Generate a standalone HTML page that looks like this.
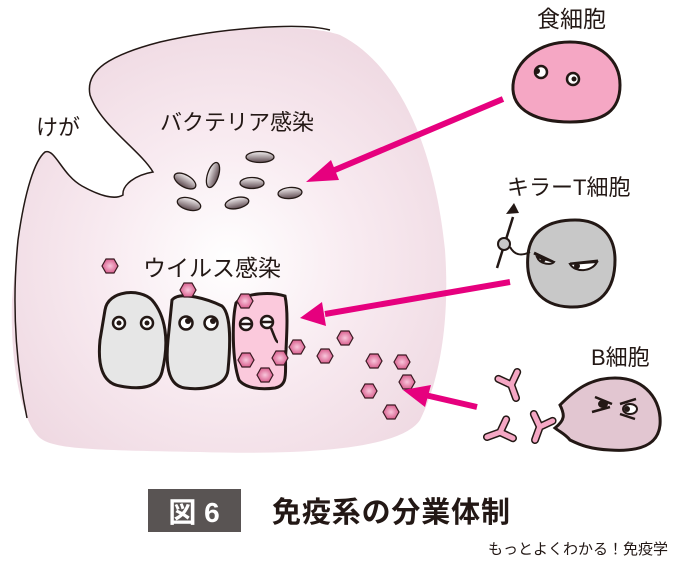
<!DOCTYPE html>
<html><head><meta charset="utf-8"><style>
html,body{margin:0;padding:0;background:#fff;width:674px;height:567px;overflow:hidden}
svg{display:block}
text{font-family:"Liberation Sans","Noto Sans CJK JP",sans-serif;fill:#231815}
</style></head><body>
<svg width="674" height="567" viewBox="0 0 674 567" xmlns="http://www.w3.org/2000/svg">
<defs>
<radialGradient id="tg" cx="0.5" cy="0.55" r="0.6">
<stop offset="0" stop-color="#ffffff"/><stop offset="0.5" stop-color="#f8eaf0"/><stop offset="1" stop-color="#efd9e2"/>
</radialGradient>
<linearGradient id="bg" x1="0" y1="0" x2="0" y2="1"><stop offset="0" stop-color="#f4f0f1"/><stop offset="1" stop-color="#5e4a50"/></linearGradient>
<radialGradient id="hg" cx="0.5" cy="0.5" r="0.5"><stop offset="0" stop-color="#f8c6db"/><stop offset="1" stop-color="#d9608f"/></radialGradient>
<symbol id="hex" viewBox="-9 -8 18 16" overflow="visible"><polygon points="-8,0 -4,-7 4,-7 8,0 4,7 -4,7" fill="url(#hg)" stroke="#3a1a22" stroke-width="1.2"/></symbol>
<g id="ab"><path d="M0 0 L0 14 M0 14 L-10 24 M0 14 L10 24" stroke-linecap="round" stroke-linejoin="round" fill="none"/></g>
</defs>
<path d="M12 300 C18 230 30 165 45 152 C55 148 62 175 82 186 C100 196 115 200 123 195 C122 185 135 175 153 172 C140 150 100 125 90 95 C85 70 110 55 160 42 C220 28 300 22 340 35 C400 65 435 150 445 250 C450 320 440 380 420 420 C400 450 300 455 200 452 C100 450 55 450 40 438 C20 420 10 360 12 300 Z" fill="url(#tg)"/>
<path d="M27 418 C15 360 12 300 18 240 C25 190 35 160 45 152 C55 148 62 175 82 186 C100 196 115 200 123 195 C122 185 135 175 153 172 C140 150 100 125 90 95 C85 70 110 55 160 42 C220 28 300 22 330 30" fill="none" stroke="#231815" stroke-width="1.5"/>
<text x="36" y="135" font-size="22">けが</text>
<text x="160" y="130" font-size="22">バクテリア感染</text>
<text x="143" y="276" font-size="23">ウイルス感染</text>
<g fill="url(#bg)" stroke="#231815" stroke-width="1.3">
<ellipse cx="185" cy="181" rx="12" ry="6" transform="rotate(30 185 181)"/>
<ellipse cx="213" cy="175" rx="13" ry="5.5" transform="rotate(-72 213 175)"/>
<ellipse cx="260" cy="157" rx="14" ry="5.5"/>
<ellipse cx="252" cy="183" rx="12" ry="5.5"/>
<ellipse cx="290" cy="193" rx="12" ry="5.5" transform="rotate(-5 290 193)"/>
<ellipse cx="189" cy="204" rx="12" ry="6" transform="rotate(15 189 204)"/>
<ellipse cx="237" cy="203" rx="12" ry="5.5" transform="rotate(-12 237 203)"/>
</g>
<g stroke="#231815" stroke-width="3">
<path d="M105 310 C108 290 140 288 152 300 C165 315 170 340 162 372 C158 388 140 390 120 386 C100 383 98 360 100 340 Z" fill="#e6e6e6"/>
<path d="M172 300 C180 290 210 300 222 306 C232 315 230 350 228 370 C226 388 200 390 185 388 C170 386 165 370 168 340 Z" fill="#e6e6e6"/>
<path d="M236 303 C246 292 272 292 285 296 C288 310 287 330 286 350 C284 370 290 385 275 388 C260 390 245 388 239 380 C232 360 232 320 236 303 Z" fill="#fbc9dc"/>
</g>
<g fill="#fff" stroke="#231815" stroke-width="2.5">
<circle cx="119" cy="323" r="6"/><circle cx="147" cy="323" r="6"/>
<circle cx="186" cy="323" r="6.5"/><circle cx="211" cy="323" r="6.5"/>
<circle cx="246" cy="324" r="6"/><circle cx="267" cy="322" r="6"/>
</g>
<g fill="#231815"><circle cx="119" cy="323" r="2.5"/><circle cx="147" cy="323" r="2.5"/><circle cx="188" cy="321" r="3"/><circle cx="213" cy="321" r="3"/></g>
<path d="M241 324 H251 M262 322 H272" stroke="#231815" stroke-width="2.5"/>
<path d="M271 328 C274 335 276 342 278 342" stroke="#231815" stroke-width="2.5" fill="none"/>
<g>
<use href="#hex" x="101" y="258" width="18" height="16"/>
<use href="#hex" x="179" y="282" width="18" height="16"/>
<use href="#hex" x="236" y="293" width="18" height="16"/>
<use href="#hex" x="237" y="352" width="18" height="16"/>
<use href="#hex" x="256" y="367" width="18" height="16"/>
<use href="#hex" x="271" y="350" width="18" height="16"/>
<use href="#hex" x="288" y="339" width="18" height="16"/>
<use href="#hex" x="336" y="330" width="18" height="16"/>
<use href="#hex" x="316" y="348" width="18" height="16"/>
<use href="#hex" x="365" y="353" width="18" height="16"/>
<use href="#hex" x="393" y="354" width="18" height="16"/>
<use href="#hex" x="360" y="383" width="18" height="16"/>
<use href="#hex" x="382" y="404" width="18" height="16"/>
<use href="#hex" x="398" y="374" width="18" height="16"/>
</g>
<g stroke="#e6007e" stroke-width="6" fill="#e6007e">
<line x1="503" y1="99" x2="330" y2="172"/>
<line x1="510" y1="282" x2="325" y2="314"/>
<line x1="477" y1="407" x2="425" y2="395"/>
</g>
<g fill="#e6007e">
<polygon points="306,182 331,160 339,180"/>
<polygon points="300,318 322,302 326,326"/>
<polygon points="403,390 431,385 425,407"/>
</g>
<text x="537" y="27" font-size="23">食細胞</text>
<path d="M513 85 C515 60 540 42 570 42 C600 42 620 60 620 85 C620 110 605 122 570 122 C540 122 511 112 513 85 Z" fill="#f5a7c4" stroke="#231815" stroke-width="3"/>
<g fill="#fff" stroke="#231815" stroke-width="2.5"><circle cx="541" cy="72" r="6"/><circle cx="573" cy="79" r="6"/></g>
<g fill="#231815"><circle cx="537" cy="71" r="3"/><circle cx="574" cy="79" r="2.5"/></g>
<text x="507" y="195" font-size="22">キラーT細胞</text>
<path d="M528 255 C530 230 550 220 575 220 C600 220 615 235 615 260 C615 290 600 308 570 307 C540 306 525 285 528 255 Z" fill="#c8c8c8" stroke="#231815" stroke-width="3"/>
<path d="M497 268 L513 217" stroke="#231815" stroke-width="2.5"/>
<polygon points="506,214 519,213 514,203" fill="#231815"/>
<circle cx="504" cy="244" r="6" fill="#c8c8c8" stroke="#231815" stroke-width="2"/>
<path d="M510 247 C515 256 522 256 530 252" stroke="#231815" stroke-width="2" fill="none"/>
<path d="M534 253 L553 262 M570 264 L598 261" stroke="#231815" stroke-width="3"/>
<path d="M537 257 C540 265 552 265 554 262 Z" fill="#fff" stroke="#231815" stroke-width="2"/>
<path d="M570 264 C575 273 592 272 597 262 Z" fill="#fff" stroke="#231815" stroke-width="2"/>
<circle cx="543" cy="260" r="2.5" fill="#231815"/><circle cx="577" cy="266" r="3" fill="#231815"/>
<text x="591" y="365" font-size="22">B細胞</text>
<path d="M560 405 C575 390 590 378 615 378 C645 378 662 400 660 425 C658 445 640 452 610 450 C590 449 580 445 570 440 C565 434 560 432 555 428 C565 420 565 415 560 405 Z" fill="#e2c6d1" stroke="#231815" stroke-width="3"/>
<path d="M595 397 L612 404 M620 404 L636 399 M592 412 L610 407 M620 414 L635 419" stroke="#231815" stroke-width="2.5"/>
<ellipse cx="603" cy="404" rx="5" ry="4" fill="#231815"/><ellipse cx="630" cy="409" rx="7" ry="5" fill="#fff" stroke="#231815" stroke-width="2"/><circle cx="627" cy="409" r="3" fill="#231815"/>
<g stroke="#231815" stroke-width="8"><use href="#ab" transform="translate(516 398) rotate(160)"/><use href="#ab" transform="translate(487 437) rotate(-110)"/><use href="#ab" transform="translate(535 440) rotate(200)"/></g>
<g stroke="#f5a7c4" stroke-width="5"><use href="#ab" transform="translate(516 398) rotate(160)"/><use href="#ab" transform="translate(487 437) rotate(-110)"/><use href="#ab" transform="translate(535 440) rotate(200)"/></g>
<rect x="148" y="489" width="93" height="43" fill="#595453"/>
<text x="194" y="522" font-size="28" font-weight="bold" text-anchor="middle" style="fill:#fff">図 6</text>
<text x="272" y="522" font-size="29" font-weight="bold" textLength="238">免疫系の分業体制</text>
<text x="668" y="554" font-size="15" text-anchor="end">もっとよくわかる！免疫学</text>
</svg>
</body></html>
